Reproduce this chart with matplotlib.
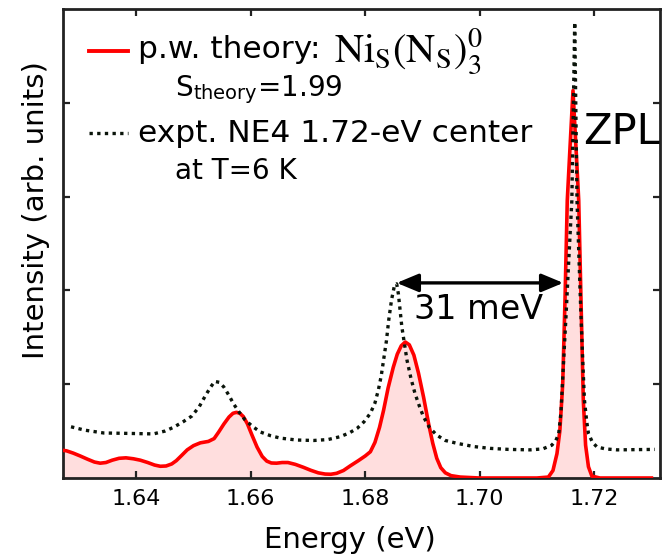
import numpy as np
import matplotlib
matplotlib.use("Agg")
import matplotlib.pyplot as plt

plt.rcParams["font.family"] = "DejaVu Sans"
plt.rcParams["mathtext.fontset"] = "stix"

# p.w. theory spectrum (energy in eV, intensity in arb. units)
theory_E = [1.6265, 1.6278, 1.6290, 1.6302, 1.6315, 1.6327, 1.6337, 1.6347, 1.6358,
            1.6370, 1.6382, 1.6395, 1.6407, 1.6420, 1.6432, 1.6442, 1.6452, 1.6462,
            1.6470, 1.6480, 1.6489, 1.6500, 1.6512, 1.6526, 1.6536, 1.6544, 1.6553,
            1.6562, 1.6569, 1.6575, 1.6581, 1.6587, 1.6594, 1.6602, 1.6611, 1.6620,
            1.6628, 1.6636, 1.6645, 1.6655, 1.6665, 1.6678, 1.6692, 1.6705, 1.6718,
            1.6730, 1.6740, 1.6750, 1.6762, 1.6774, 1.6788, 1.6800, 1.6809, 1.6817,
            1.6825, 1.6832, 1.6840, 1.6849, 1.6856, 1.6863, 1.6870, 1.6877, 1.6885,
            1.6893, 1.6902, 1.6911, 1.6918, 1.6925, 1.6932, 1.6940, 1.6950, 1.6966,
            1.7000, 1.7100, 1.7120, 1.7128, 1.7135, 1.7140, 1.7145, 1.7149, 1.7153,
            1.7158, 1.7163, 1.7168, 1.7173, 1.7177, 1.7181, 1.7185, 1.7190, 1.7196,
            1.7210, 1.7300]
theory_I = [0.30, 0.29, 0.265, 0.235, 0.20, 0.170, 0.158, 0.165, 0.190,
            0.210, 0.215, 0.205, 0.190, 0.165, 0.138, 0.125, 0.128, 0.150,
            0.185, 0.245, 0.300, 0.345, 0.375, 0.39, 0.42, 0.49, 0.575,
            0.65, 0.69, 0.70, 0.69, 0.655, 0.58, 0.46, 0.33, 0.23,
            0.18, 0.160, 0.158, 0.165, 0.165, 0.145, 0.114, 0.082, 0.055,
            0.042, 0.040, 0.050, 0.080, 0.130, 0.185, 0.235, 0.28, 0.38,
            0.54, 0.72, 0.96, 1.18, 1.32, 1.41, 1.45, 1.42, 1.31,
            1.12, 0.86, 0.57, 0.37, 0.21, 0.11, 0.055, 0.025, 0.01,
            0.0, 0.0, 0.01, 0.08, 0.26, 0.50, 1.00, 1.89, 2.96,
            3.55, 4.13, 3.55, 2.96, 1.89, 0.83, 0.35, 0.12, 0.02,
            0.0, 0.0]

# experiment NE4 center at T=6 K
expt_E = [1.6286, 1.6310, 1.6343, 1.6390, 1.6430, 1.6450, 1.6465, 1.6482, 1.6497,
          1.6510, 1.6521, 1.6530, 1.6537, 1.6545, 1.6553, 1.6562, 1.6570, 1.6580,
          1.6590, 1.6603, 1.6617, 1.6635, 1.6652, 1.6680, 1.6710, 1.6735, 1.6756,
          1.6772, 1.6786, 1.6798, 1.6809, 1.6817, 1.6823, 1.6828, 1.6832, 1.6837,
          1.6841, 1.6846, 1.6851, 1.6855, 1.6858, 1.6864, 1.6873, 1.6880, 1.6887,
          1.6895, 1.6902, 1.6912, 1.6925, 1.6940, 1.6960, 1.6990, 1.7018, 1.7050,
          1.7088, 1.7110, 1.7126, 1.7133, 1.7138, 1.7142, 1.7146, 1.7151, 1.7155,
          1.7161, 1.7166, 1.7170, 1.7176, 1.7180, 1.7183, 1.7187, 1.7190, 1.7197,
          1.7205, 1.7220, 1.7240, 1.7306]
expt_I = [0.546, 0.51, 0.48, 0.475, 0.47, 0.50, 0.54, 0.60, 0.66,
          0.76, 0.88, 0.97, 1.03, 1.02, 0.97, 0.88, 0.79, 0.70,
          0.62, 0.55, 0.49, 0.45, 0.425, 0.405, 0.40, 0.41, 0.44,
          0.48, 0.53, 0.60, 0.69, 0.80, 0.94, 1.09, 1.255, 1.46,
          1.68, 1.90, 2.05, 2.07, 1.96, 1.61, 1.255, 1.06, 0.90,
          0.76, 0.65, 0.54, 0.457, 0.40, 0.37, 0.335, 0.316, 0.305,
          0.30, 0.31, 0.35, 0.40, 0.47, 0.70, 1.18, 1.75, 2.25,
          2.96, 4.86, 2.96, 1.89, 1.25, 0.83, 0.60, 0.475, 0.38,
          0.33, 0.31, 0.30, 0.305]

xticks = [1.64, 1.66, 1.68, 1.70, 1.72]
yticks = [1, 2, 3, 4]
arrow_left, arrow_right, arrow_y = 1.6855, 1.7146, 2.08

fig = plt.figure(figsize=(6.71, 5.58), dpi=100)
ax = fig.add_axes([63 / 671, 80 / 558, 597 / 671, 469 / 558])

ax.fill_between(theory_E, 0, theory_I, color="#ffdede", lw=0, zorder=1)
ax.plot(theory_E, theory_I, color="red", lw=2.6, zorder=3, solid_joinstyle="round")
ax.plot(expt_E, expt_I, color="#0a140a", lw=2.4, ls=(0, (1, 1.3)), zorder=4)

ax.set_xlim(1.6272, 1.7315)
ax.set_ylim(0, 5)
ax.set_xticks(xticks)
ax.set_xticklabels([f"{v:.2f}" for v in xticks])
ax.set_yticks(yticks)
ax.set_yticklabels([])
ax.tick_params(direction="in", length=5, width=1.6, top=True, right=True,
               labelsize=16, pad=8, color="#222222")
for s in ax.spines.values():
    s.set_linewidth(2.0)
    s.set_color("#222222")

ax.set_xlabel("Energy (eV)", fontsize=21)
ax.xaxis.set_label_coords(0.481, -0.103)
ax.set_ylabel("Intensity (arb. units)", fontsize=21)
ax.yaxis.set_label_coords(-0.022, 0.571)

# 31 meV separation arrow
ax.annotate("", xy=(arrow_right, arrow_y), xytext=(arrow_left, arrow_y),
            arrowprops=dict(arrowstyle="<|-|>,head_length=0.6,head_width=0.25",
                            color="black", lw=2.4,
                            mutation_scale=22, shrinkA=0, shrinkB=0), zorder=5)
ax.text((arrow_left + arrow_right) / 2 - 0.0002, arrow_y - 0.28, "31 meV",
        fontsize=24, ha="center", va="center")
ax.text(1.7181, 3.69, "ZPL", fontsize=30, ha="left", va="center", clip_on=False)

# hand-made legend
ax.plot([0.044, 0.109], [0.911, 0.911], color="red", lw=2.8, transform=ax.transAxes)
ax.plot([0.044, 0.109], [0.736, 0.736], color="#0a140a", lw=2.4, ls=(0, (1, 1.3)),
        transform=ax.transAxes)
ax.text(0.126, 0.895, "p.w. theory:", fontsize=22.5, transform=ax.transAxes, va="baseline")
ax.text(0.454, 0.885, r"$\mathrm{Ni_S(N_S)_3^0}$", fontsize=29,
        transform=ax.transAxes, va="baseline")
ax.text(0.1876, 0.8145, r"S$_\mathregular{theory}$=1.99", fontsize=20,
        transform=ax.transAxes, va="baseline")
ax.text(0.126, 0.717, "expt. NE4 1.72-eV center", fontsize=22.5,
        transform=ax.transAxes, va="baseline")
ax.text(0.1876, 0.6375, "at T=6 K", fontsize=20, transform=ax.transAxes, va="baseline")

fig.savefig("out.png", dpi=100)
